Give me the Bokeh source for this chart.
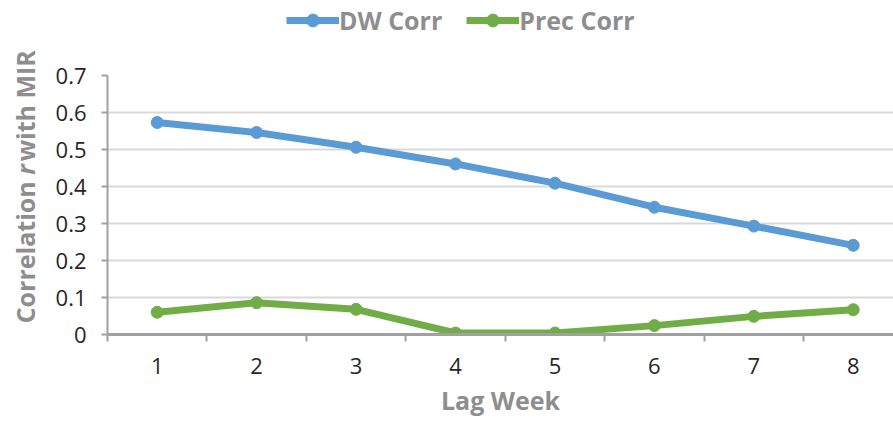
import os
import struct
import numpy as np
from bokeh.plotting import figure
from bokeh.layouts import row, column
from bokeh.models import Range1d, FixedTicker, Legend, LegendItem
from bokeh.core.properties import value
from bokeh.embed import file_html
from bokeh.resources import INLINE

# ---- data ----
lag_weeks = [1, 2, 3, 4, 5, 6, 7, 8]
dw_corr = [0.573, 0.546, 0.506, 0.461, 0.409, 0.344, 0.293, 0.241]
prec_corr = [0.060, 0.086, 0.068, 0.004, 0.004, 0.024, 0.049, 0.067]
y_ticks = [0, 0.1, 0.2, 0.3, 0.4, 0.5, 0.6, 0.7]
series_names = ["DW Corr", "Prec Corr"]
x_title = "Lag Week"
y_title_parts = ["Correlation ", "r", " with MIR"]

BLUE = "#5b9bd5"
GREEN = "#70ad47"
TITLE_GRAY = "#8e8e8e"
AXIS_GRAY = "#a0a0a0"
FONT = "Open Sans"

W, H = 893, 422
STRIP = 50     # width of the y-title strip
TOP = 40       # height of the legend strip
TITLE_FS = 25

# approximate Open Sans Bold advance widths (em)
_EST = {"C": .66, "o": .62, "r": .44, "e": .60, "l": .30, "a": .61, "t": .43, "i": .30,
        "n": .66, " ": .26, "w": .87, "h": .66, "M": .97, "I": .36, "R": .68}


def est_width(text, size):
    return sum(_EST.get(c, .6) for c in text) * size


# ---------- text width measurement from the installed font (fallback: estimate) ----------
def _find_font(want_italic):
    for root in ["/usr/share/fonts", "/usr/local/share/fonts", os.path.expanduser("~/.fonts")]:
        if not os.path.isdir(root):
            continue
        for dp, _, fns in os.walk(root):
            for fn in sorted(fns):
                low = fn.lower().replace(" ", "").replace("_", "").replace("-", "")
                if not low.startswith("opensans") or not low.endswith((".ttf", ".otf")):
                    continue
                if any(k in low for k in ["semi", "extra", "cond", "light", "medium"]):
                    continue
                stem = low.rsplit(".", 1)[0]
                if want_italic and stem != "opensansbolditalic":
                    continue
                if not want_italic and stem != "opensansbold":
                    continue
                return os.path.join(dp, fn)
    return None


def _advances(path):
    data = open(path, "rb").read()
    num = struct.unpack(">H", data[4:6])[0]
    tabs = {}
    for i in range(num):
        rec = data[12 + 16 * i: 28 + 16 * i]
        tabs[rec[:4].decode("latin1")] = struct.unpack(">I", rec[8:12])[0]
    if "fvar" in tabs:
        return None
    upem = struct.unpack(">H", data[tabs["head"] + 18: tabs["head"] + 20])[0]
    nhm = struct.unpack(">H", data[tabs["hhea"] + 34: tabs["hhea"] + 36])[0]
    hm = tabs["hmtx"]
    adv = [struct.unpack(">H", data[hm + 4 * i: hm + 4 * i + 2])[0] for i in range(nhm)]
    cm = tabs["cmap"]
    n = struct.unpack(">H", data[cm + 2: cm + 4])[0]
    sub = None
    for i in range(n):
        pid, eid, off = struct.unpack(">HHI", data[cm + 4 + 8 * i: cm + 12 + 8 * i])
        if (pid, eid) in [(3, 1), (0, 3), (0, 4), (3, 10)]:
            if struct.unpack(">H", data[cm + off: cm + off + 2])[0] == 4:
                sub = cm + off
                break
    if sub is None:
        return None
    segx2 = struct.unpack(">H", data[sub + 6: sub + 8])[0]
    seg = segx2 // 2
    ends = struct.unpack(">%dH" % seg, data[sub + 14: sub + 14 + segx2])
    so = sub + 16 + segx2
    starts = struct.unpack(">%dH" % seg, data[so: so + segx2])
    deltas = struct.unpack(">%dh" % seg, data[so + segx2: so + 2 * segx2])
    ro = so + 2 * segx2
    ranges = struct.unpack(">%dH" % seg, data[ro: ro + segx2])

    def gid(ch):
        c = ord(ch)
        for k in range(seg):
            if starts[k] <= c <= ends[k]:
                if ranges[k] == 0:
                    return (c + deltas[k]) & 0xFFFF
                addr = ro + 2 * k + ranges[k] + 2 * (c - starts[k])
                g = struct.unpack(">H", data[addr: addr + 2])[0]
                return (g + deltas[k]) & 0xFFFF if g else 0
        return 0

    def width(text, size):
        return sum(adv[min(gid(ch), nhm - 1)] for ch in text) * size / upem
    return width


def text_width(text, size, italic=False):
    est = est_width(text, size)
    try:
        path = _find_font(italic)
        if path:
            f = _advances(path)
            if f:
                w = f(text, size)
                if 0.88 * est <= w <= 1.12 * est:
                    return w
    except Exception:
        pass
    return est


def bare(width, height, x0=0):
    f = figure(width=width, height=height, output_backend="svg", toolbar_location=None,
               x_range=Range1d(x0, x0 + width), y_range=Range1d(0, height),
               x_axis_type=None, y_axis_type=None, min_border=0)
    f.outline_line_color = None
    f.xgrid.visible = False
    f.ygrid.visible = False
    f.frame_align = False
    return f


# ---- legend strip (series drawn off-frame only so the legend has styled samples) ----
lg = bare(W, TOP, x0=-100000)
l1 = lg.line(lag_weeks, dw_corr, line_color=BLUE, line_width=7)
s1 = lg.scatter(lag_weeks, dw_corr, size=12, fill_color=BLUE, line_color=BLUE)
l2 = lg.line(lag_weeks, prec_corr, line_color=GREEN, line_width=7)
s2 = lg.scatter(lag_weeks, prec_corr, size=12, fill_color=GREEN, line_color=GREEN)
legend = Legend(items=[LegendItem(label=series_names[0], renderers=[l1, s1]),
                       LegendItem(label=series_names[1], renderers=[l2, s2])],
                location=(286, 3), orientation="horizontal",
                border_line_color=None, background_fill_alpha=0,
                padding=0, margin=0, spacing=24,
                glyph_width=53, glyph_height=32, label_height=24,
                label_standoff=0, label_text_font=FONT,
                label_text_font_style="bold", label_text_font_size=f"{TITLE_FS}px",
                label_text_color=TITLE_GRAY)
lg.add_layout(legend, "center")

# ---- strip holding the y-axis title (mixed upright / italic) ----
t = bare(STRIP, H - TOP)
styles = ["bold", "bold italic", "bold"]
widths = [text_width(y_title_parts[0], TITLE_FS),
          text_width(y_title_parts[1], TITLE_FS, italic=True) + 3,   # italic overhang
          text_width(y_title_parts[2], TITLE_FS)]
total = sum(widths)
center_y = (H - 183)            # title centre, measured from the bottom
pos = center_y - total / 2
for txt, st, w in zip(y_title_parts, styles, widths):
    t.text(x=[24], y=[pos], text=[txt], angle=np.pi / 2,
           text_align="left", text_baseline="middle",
           text_font=value(FONT), text_font_style=st,
           text_font_size=f"{TITLE_FS}px", text_color=TITLE_GRAY)
    pos += w

# ---- main chart ----
p = figure(width=W - STRIP, height=H - TOP, output_backend="svg", toolbar_location=None,
           x_range=Range1d(0.5, 8.405), y_range=Range1d(0, 0.7),
           min_border_left=107 - STRIP, min_border_right=0, min_border_top=75 - TOP,
           min_border_bottom=88)
p.outline_line_color = None
p.frame_align = False

p.line(lag_weeks, dw_corr, line_color=BLUE, line_width=7)
p.scatter(lag_weeks, dw_corr, size=12, fill_color=BLUE, line_color=BLUE)
p.line(lag_weeks, prec_corr, line_color=GREEN, line_width=7)
p.scatter(lag_weeks, prec_corr, size=12, fill_color=GREEN, line_color=GREEN)

p.xgrid.grid_line_color = None
p.ygrid.ticker = FixedTicker(ticks=y_ticks)
p.ygrid.grid_line_color = "#d9d9d9"
p.ygrid.grid_line_width = 2

ya = p.yaxis[0]
ya.ticker = FixedTicker(ticks=y_ticks)
ya.axis_line_color = AXIS_GRAY
ya.axis_line_width = 2
ya.major_tick_line_color = AXIS_GRAY
ya.major_tick_line_width = 2
ya.major_tick_out = 6
ya.major_tick_in = 0
ya.minor_tick_line_color = None
ya.major_label_text_font = FONT
ya.major_label_text_font_size = "22px"
ya.major_label_text_color = "#262626"
ya.major_label_standoff = 15
ya.major_label_overrides = {0: "0"}

xa = p.xaxis[0]
xa.ticker = FixedTicker(ticks=lag_weeks,
                        minor_ticks=[w - 0.5 for w in lag_weeks] + [lag_weeks[-1] + 0.5])
xa.axis_line_color = AXIS_GRAY
xa.axis_line_width = 3
xa.major_tick_line_color = None
xa.minor_tick_line_color = AXIS_GRAY
xa.minor_tick_line_width = 2
xa.minor_tick_out = 7
xa.minor_tick_in = 0
xa.major_tick_out = 7
xa.major_label_text_font = FONT
xa.major_label_text_font_size = "22px"
xa.major_label_text_color = "#262626"
xa.major_label_standoff = 16
xa.axis_label = x_title
xa.axis_label_text_font = FONT
xa.axis_label_text_font_style = "bold"
xa.axis_label_text_font_size = f"{TITLE_FS}px"
xa.axis_label_text_color = TITLE_GRAY
xa.axis_label_standoff = 6

layout = column(lg, row(t, p, spacing=0), spacing=0)
open("out.html", "w").write(file_html(layout, INLINE))
